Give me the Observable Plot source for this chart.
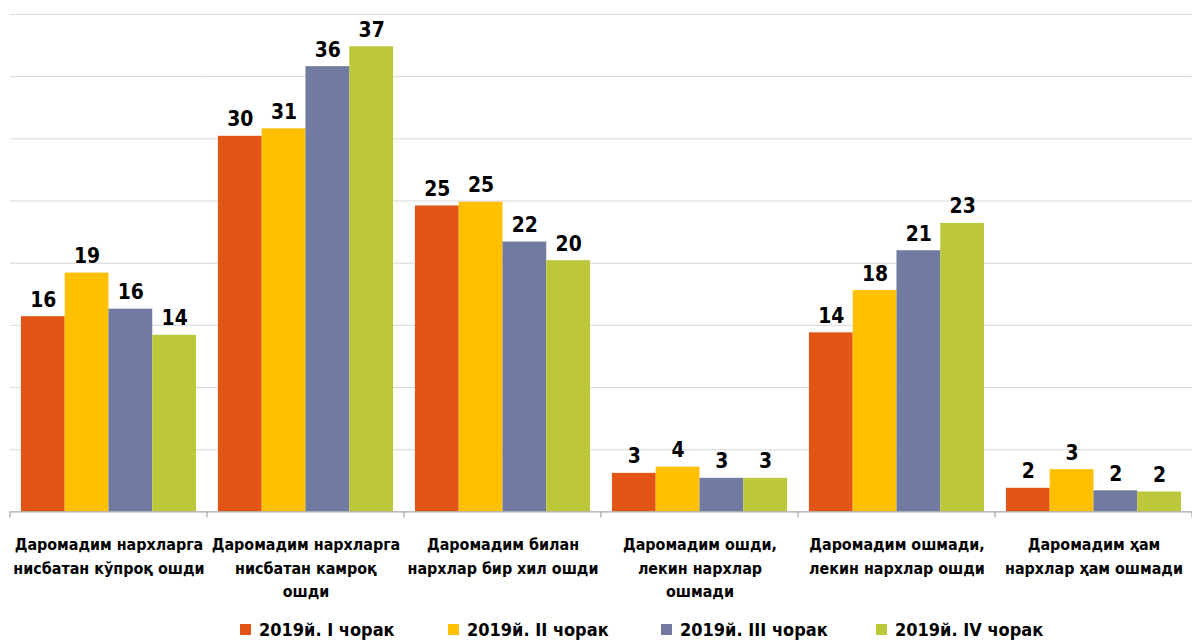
<!DOCTYPE html>
<html>
<head>
<meta charset="utf-8">
<script src="https://cdn.jsdelivr.net/npm/d3@7"></script>
<script src="https://cdn.jsdelivr.net/npm/@observablehq/plot@0.6"></script>
<style>
  html, body { margin: 0; padding: 0; background: #fff; overflow: hidden; width: 1192px; height: 641px; }
  #chart svg { display: block; }
  #legend { height: 35px; font-family: "DejaVu Sans Condensed", "Liberation Sans", sans-serif; font-weight: bold; font-size: 18px; color: #000; }
  .item { position: absolute; display: flex; align-items: center; top: 619px; }
  .sw { width: 11px; height: 11px; margin-right: 8px; }
</style>
</head>
<body>
<div id="chart"></div>
<div id="legend"></div>
<script>
const categories = [
  "Даромадим нархларга\nнисбатан кўпроқ ошди",
  "Даромадим нархларга\nнисбатан камроқ\nошди",
  "Даромадим билан\nнархлар бир хил ошди",
  "Даромадим ошди,\nлекин нархлар\nошмади",
  "Даромадим ошмади,\nлекин нархлар ошди",
  "Даромадим ҳам\nнархлар ҳам ошмади"
];
const series = ["2019й. I чорак", "2019й. II чорак", "2019й. III чорак", "2019й. IV чорак"];
const colors = ["#E35417", "#FFC000", "#717AA0", "#BCC73A"];
const q1 = [15.7, 30.2, 24.6, 3.1, 14.4, 1.9];
const q2 = [19.2, 30.8, 24.9, 3.6, 17.8, 3.4];
const q3 = [16.3, 35.8, 21.7, 2.7, 21.0, 1.7];
const q4 = [14.2, 37.4, 20.2, 2.7, 23.2, 1.6];
const gridTicks = [5, 10, 15, 20, 25, 30, 35, 40];

const seriesValues = [q1, q2, q3, q4];
const data = [];
categories.forEach((c, i) => series.forEach((s, j) => data.push({category: c, series: s, value: seriesValues[j][i]})));
const fmt = d3.format(".0f");
const font = '"DejaVu Sans Condensed", "Liberation Sans", sans-serif';

const plot = Plot.plot({
  width: 1198,
  height: 606,
  marginLeft: 10,
  marginRight: 0,
  marginTop: 14,
  marginBottom: 92,
  style: {fontFamily: font, background: "#fff", overflow: "visible"},
  fx: {domain: categories, padding: 0, label: null},
  x: {domain: series, paddingInner: 0, paddingOuter: 0.25, axis: null},
  y: {domain: [0, 40], axis: null},
  color: {domain: series, range: colors},
  marks: [
    Plot.ruleY(gridTicks, {stroke: "#d9d9d9", strokeWidth: 1}),
    Plot.barY(data, {fx: "category", x: "series", y: "value", fill: "series"}),
    Plot.ruleY([0], {stroke: "#a6a6a6", strokeWidth: 1.2}),
    Plot.text(data, {fx: "category", x: "series", y: "value", text: d => fmt(d.value),
      lineAnchor: "bottom", dy: -10, fontSize: 21, fontWeight: "bold", fill: "#000"}),
    Plot.axisFx({anchor: "bottom", tickSize: 0, tickPadding: 22, fontSize: 16, fontWeight: "bold",
      lineHeight: 1.47, label: null, fill: "#000", textAnchor: "middle"})
  ]
});
document.getElementById("chart").appendChild(plot);

// category boundary ticks, positioned with the fx scale
const fxs = plot.scale("fx");
const svg = d3.select(plot);
const baseY = 606 - 92;
const edges = categories.map(c => fxs.apply(c) - (fxs.step - fxs.bandwidth) / 2);
edges.push(edges[edges.length - 1] + fxs.step);
svg.append("g").selectAll("line").data(edges).join("line")
  .attr("x1", d => d).attr("x2", d => d)
  .attr("y1", baseY).attr("y2", baseY + 6)
  .attr("stroke", "#a6a6a6").attr("stroke-width", 1.2);

// legend
const legendX = [240, 448, 661, 876];
const legend = d3.select("#legend");
series.forEach((s, j) => {
  const it = legend.append("div").attr("class", "item").style("left", legendX[j] + "px");
  it.append("div").attr("class", "sw").style("background", colors[j]);
  it.append("span").text(s);
});
</script>
</body>
</html>
